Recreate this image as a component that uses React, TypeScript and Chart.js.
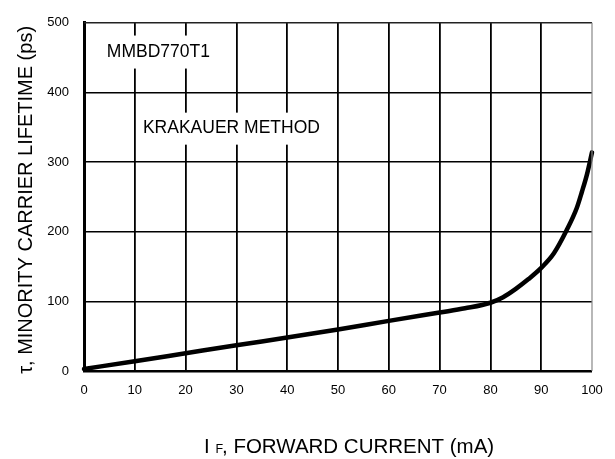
import React, { useEffect, useRef } from "react";
import { Chart, registerables } from "chart.js";

Chart.register(...registerables);

const currentMA = [0, 10, 20, 30, 40, 50, 60, 70, 75, 80, 82.5, 85, 87.5, 90, 92.5, 95, 97, 98, 99, 100];
const lifetimePs = [3, 14, 25.5, 37, 48, 59.5, 72, 84, 90, 98, 106, 118, 132, 148, 169, 202, 234, 257, 282, 314];

const xTicks = [0, 10, 20, 30, 40, 50, 60, 70, 80, 90, 100];
const yTicks = [0, 100, 200, 300, 400, 500];

const yTitle = "\u03C4, MINORITY CARRIER LIFETIME (ps)";
const xTitleMain = "I";
const xTitleSub = "F";
const xTitleRest = ", FORWARD CURRENT (mA)";

const notes = [
  { text: "MMBD770T1", x: 4.5, y: 458, boxL: 2.2, boxR: 26.5, boxPad: 16.5 },
  { text: "KRAKAUER METHOD", x: 11.6, y: 348, boxL: 11.0, boxR: 48.9, boxPad: 16 },
];

const FONT = '"Liberation Sans", Arial, sans-serif';

export default function App() {
  const ref = useRef<HTMLCanvasElement | null>(null);
  useEffect(() => {
    if (!ref.current) return;
    const overlay = {
      id: "overlay",
      beforeDatasetsDraw(chart: any) {
        const ctx = chart.ctx;
        const xs = chart.scales.x;
        const ys = chart.scales.y;
        ctx.save();
        ctx.font = "17.5px " + FONT;
        ctx.textBaseline = "middle";
        ctx.textAlign = "left";
        for (const n of notes) {
          const cy = ys.getPixelForValue(n.y);
          const l = xs.getPixelForValue(n.boxL);
          const r = xs.getPixelForValue(n.boxR);
          ctx.fillStyle = "#fff";
          ctx.fillRect(l, cy - n.boxPad, r - l, n.boxPad * 2);
          ctx.fillStyle = "#000";
          ctx.fillText(n.text, xs.getPixelForValue(n.x), cy);
        }
        ctx.restore();
      },
      afterDraw(chart: any) {
        const ctx = chart.ctx;
        const a = chart.chartArea;
        ctx.save();
        ctx.fillStyle = "#000";
        ctx.font = "20px " + FONT;
        ctx.translate(31.5, (a.top + a.bottom) / 2 + 3);
        ctx.rotate(-Math.PI / 2);
        ctx.textAlign = "center";
        ctx.textBaseline = "alphabetic";
        ctx.fillText(yTitle, 0, 0);
        ctx.restore();
        ctx.save();
        ctx.fillStyle = "#000";
        ctx.textBaseline = "alphabetic";
        ctx.textAlign = "left";
        const base = 453;
        ctx.font = "20.5px " + FONT;
        ctx.fillText(xTitleMain, 204, base);
        ctx.font = "12.5px " + FONT;
        ctx.fillText(xTitleSub, 215.5, base);
        ctx.font = "20.5px " + FONT;
        ctx.fillText(xTitleRest, 222, base);
        ctx.strokeStyle = "#222";
        ctx.lineWidth = 1.5;
        ctx.beginPath();
        ctx.moveTo(a.left, a.top);
        ctx.lineTo(a.right, a.top);
        ctx.stroke();
        ctx.strokeStyle = "#888";
        ctx.lineWidth = 1.2;
        ctx.beginPath();
        ctx.moveTo(a.right, a.top);
        ctx.lineTo(a.right, a.bottom);
        ctx.stroke();
        ctx.restore();
      },
    };
    const chart = new Chart(ref.current, {
      type: "line",
      data: {
        datasets: [
          {
            data: currentMA.map((x, i) => ({ x, y: lifetimePs[i] })),
            borderColor: "#000",
            borderWidth: 4.5,
            pointRadius: 0,
            cubicInterpolationMode: "monotone",
            borderCapStyle: "round",
            clip: false as any,
          },
        ],
      },
      options: {
        animation: false,
        responsive: false,
        maintainAspectRatio: false,
        layout: { padding: { left: 0, top: 14, right: 23, bottom: 0 } },
        plugins: { legend: { display: false }, tooltip: { enabled: false } },
        scales: {
          x: {
            type: "linear",
            min: 0,
            max: 100,
            afterBuildTicks: (s: any) => {
              s.ticks = xTicks.map((v) => ({ value: v }));
            },
            afterFit: (s: any) => {
              s.height = 88;
            },
            ticks: {
              padding: 12,
              color: "#000",
              font: { family: FONT, size: 13 },
              maxRotation: 0,
              callback: (v: any) => String(v),
            },
            grid: {
              drawTicks: false,
              color: "#000",
              lineWidth: (c: any) => (c.index === 0 || c.index === 10 ? 0 : 1.8),
            },
            border: { display: true, color: "#000", width: 2.5 },
          },
          y: {
            type: "linear",
            min: 0,
            max: 500,
            afterBuildTicks: (s: any) => {
              s.ticks = yTicks.map((v) => ({ value: v }));
            },
            afterFit: (s: any) => {
              s.width = 84;
            },
            ticks: {
              padding: 15,
              color: "#000",
              font: { family: FONT, size: 13 },
              callback: (v: any) => String(v),
            },
            grid: {
              drawTicks: false,
              color: "#000",
              lineWidth: (c: any) => (c.index === 0 || c.index === 5 ? 0 : 1.5),
            },
            border: { display: true, color: "#000", width: 3 },
          },
        },
      },
      plugins: [overlay],
    } as any);
    return () => chart.destroy();
  }, []);
  return (
    <div style={{ position: "fixed", left: 0, top: 0, width: 615, height: 459, background: "#fff" }}>
      <canvas ref={ref} width={615} height={459} style={{ width: 615, height: 459 }} />
    </div>
  );
}
